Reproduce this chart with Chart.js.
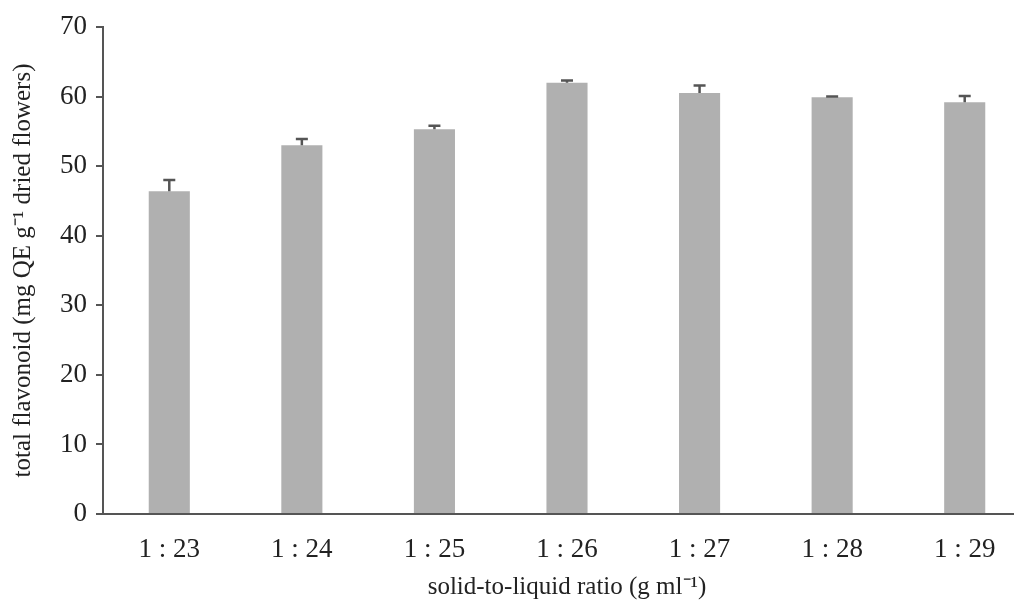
<!DOCTYPE html>
<html>
<head>
<meta charset="utf-8">
<script src="https://cdn.jsdelivr.net/npm/chart.js@4/dist/chart.umd.min.js"></script>
<style>
html,body{margin:0;padding:0;background:#ffffff;overflow:hidden;}
#wrap{width:1031px;height:602px;position:relative;}
</style>
</head>
<body>
<div id="wrap"><canvas id="c"></canvas></div>
<script>
const categories = ['1 : 23', '1 : 24', '1 : 25', '1 : 26', '1 : 27', '1 : 28', '1 : 29'];
const flavonoid = [46.4, 53.0, 55.3, 62.0, 60.5, 59.9, 59.2];
const errorUp = [1.6, 0.9, 0.5, 0.3, 1.1, 0.1, 0.9];
const yTicks = [0, 10, 20, 30, 40, 50, 60, 70];

const FONT = "'Liberation Serif', 'Times New Roman', serif";

const errorBarPlugin = {
  id: 'errorBars',
  afterDatasetsDraw(chart) {
    const ctx = chart.ctx;
    const meta = chart.getDatasetMeta(0);
    const y = chart.scales.y;
    ctx.save();
    ctx.strokeStyle = '#555555';
    ctx.lineWidth = 2.5;
    meta.data.forEach((bar, i) => {
      const v = flavonoid[i];
      const e = errorUp[i];
      const y0 = y.getPixelForValue(v);
      const y1 = y.getPixelForValue(v + e);
      ctx.beginPath();
      ctx.moveTo(bar.x, y0);
      ctx.lineTo(bar.x, y1);
      ctx.moveTo(bar.x - 6, y1);
      ctx.lineTo(bar.x + 6, y1);
      ctx.stroke();
    });
    ctx.restore();
  }
};

new Chart(document.getElementById('c'), {
  type: 'bar',
  data: {
    labels: categories,
    datasets: [{
      data: flavonoid,
      backgroundColor: '#b0b0b0',
      borderWidth: 0,
      categoryPercentage: 1.0,
      barPercentage: 0.31
    }]
  },
  options: {
    responsive: true,
    maintainAspectRatio: false,
    animation: false,
    layout: { padding: { top: 27, right: 0, left: 0, bottom: 0 } },
    plugins: { legend: { display: false }, tooltip: { enabled: false } },
    scales: {
      x: {
        grid: { display: false },
        border: { display: true, color: '#555555', width: 2 },
        ticks: { color: '#222222', font: { family: FONT, size: 27 }, padding: 12, maxRotation: 0 },
        title: {
          display: true,
          text: 'solid-to-liquid ratio (g ml\u207B\u00B9)',
          color: '#222222',
          font: { family: FONT, size: 25 },
          padding: { top: 4, bottom: 0 }
        },
        afterFit(scale) { scale.height = 88; }
      },
      y: {
        min: 0,
        max: 70,
        afterBuildTicks(scale) { scale.ticks = yTicks.map(v => ({ value: v })); },
        grid: { drawOnChartArea: false, drawTicks: true, tickLength: 7, color: '#555555', lineWidth: 2 },
        border: { display: true, color: '#555555', width: 2 },
        ticks: { color: '#222222', font: { family: FONT, size: 27 }, padding: 9 },
        title: {
          display: true,
          text: 'total flavonoid (mg QE g\u207B\u00B9 dried flowers)',
          color: '#222222',
          font: { family: FONT, size: 25 },
          padding: { top: 8, bottom: 0 }
        },
        afterFit(scale) { scale.width = 103; }
      }
    }
  },
  plugins: [errorBarPlugin]
});
</script>
</body>
</html>
